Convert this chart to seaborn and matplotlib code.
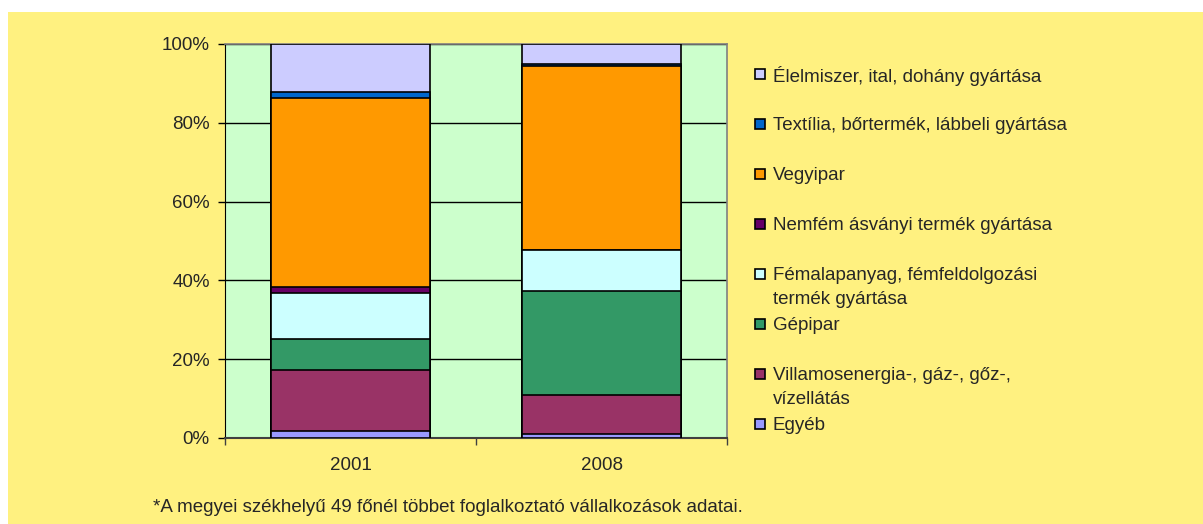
import numpy as np
import pandas as pd
import seaborn as sns
import matplotlib.pyplot as plt
from matplotlib.patches import Rectangle
from matplotlib.ticker import PercentFormatter

# data (percent shares)
years = ["2001", "2008"]
categories = [
    "Egyéb",
    "Villamosenergia-, gáz-, gőz-,\nvízellátás",
    "Gépipar",
    "Fémalapanyag, fémfeldolgozási\ntermék gyártása",
    "Nemfém ásványi termék gyártása",
    "Vegyipar",
    "Textília, bőrtermék, lábbeli gyártása",
    "Élelmiszer, ital, dohány gyártása",
]
share_2001 = [1.8, 15.4, 8.0, 11.7, 1.4, 48.0, 1.4, 12.3]
share_2008 = [0.9, 9.9, 26.6, 10.3, 0.1, 46.5, 0.5, 5.2]
colors = ["#9999FF", "#993366", "#339966", "#CCFFFF",
          "#660066", "#FF9900", "#0066CC", "#CCCCFF"]
footnote = "*A megyei székhelyű 49 főnél többet foglalkoztató vállalkozások adatai."

sns.set_style("white")
plt.rcParams["font.family"] = ["Liberation Sans", "DejaVu Sans"]
FS = 13.5

W, H = 1203, 524
fig = plt.figure(figsize=(W / 100, H / 100), dpi=100, facecolor="white")
fig.patches.append(Rectangle((8 / W, 0), 1, (H - 12) / H, transform=fig.transFigure,
                             facecolor="#FFF180", edgecolor="none", zorder=-5))

ax = fig.add_axes([225 / W, (H - 438) / H, 502 / W, 394 / H])
ax.set_zorder(2)
ax.set_facecolor("#CCFFCC")

df = pd.DataFrame({"year": np.repeat(years, len(categories)),
                   "cat": categories * len(years),
                   "share": share_2001 + share_2008})
df["top"] = df.groupby("year")["share"].cumsum()

# draw from the top layer down so lower layers sit on top
for cat, col in list(zip(categories, colors))[::-1]:
    sub = df[df["cat"] == cat]
    sns.barplot(data=sub, x="year", y="top", order=years, color=col, saturation=1,
                width=0.63, edgecolor="black", linewidth=1.2, ax=ax, zorder=3)

ax.set_xlim(-0.5, 1.5)
ax.set_ylim(0, 100)
ax.set_yticks([0, 20, 40, 60, 80, 100])
ax.yaxis.set_major_formatter(PercentFormatter(decimals=0))
ax.grid(axis="y", color="black", linewidth=1, zorder=1)
ax.set_axisbelow(True)
ax.set_xlabel("")
ax.set_ylabel("")
ax.set_xticks([0, 1])
ax.set_xticks([-0.5, 0.5, 1.5], minor=True)
ax.tick_params(axis="x", which="major", length=0, pad=14, labelsize=FS)
ax.tick_params(axis="x", which="minor", length=5, width=1, color="#404040", bottom=True)
ax.tick_params(axis="y", length=5, width=1, color="black", pad=6, left=True, labelsize=FS)
ax.spines["left"].set_color("black")
ax.spines["bottom"].set_color("#404040")
ax.spines["bottom"].set_linewidth(1.5)
for s in ["top", "right"]:
    ax.spines[s].set_color("#808080")
    ax.spines[s].set_linewidth(1.2)

# legend, top entry first
for i, (cat, col) in enumerate(zip(categories[::-1], colors[::-1])):
    yc = 74 + 50 * i
    fig.patches.append(Rectangle((755 / W, (H - yc - 5) / H), 10 / W, 10 / H,
                                 transform=fig.transFigure, facecolor=col,
                                 edgecolor="black", linewidth=1.2, zorder=3))
    for j, line in enumerate(cat.split("\n")):
        fig.text(773 / W, (H - yc - 24 * j) / H, line, ha="left",
                 va="center_baseline", fontsize=FS)

fig.text(153 / W, (H - 505) / H, footnote, ha="left", va="center_baseline", fontsize=FS)

fig.savefig("out.png", dpi=100, facecolor=fig.get_facecolor())
